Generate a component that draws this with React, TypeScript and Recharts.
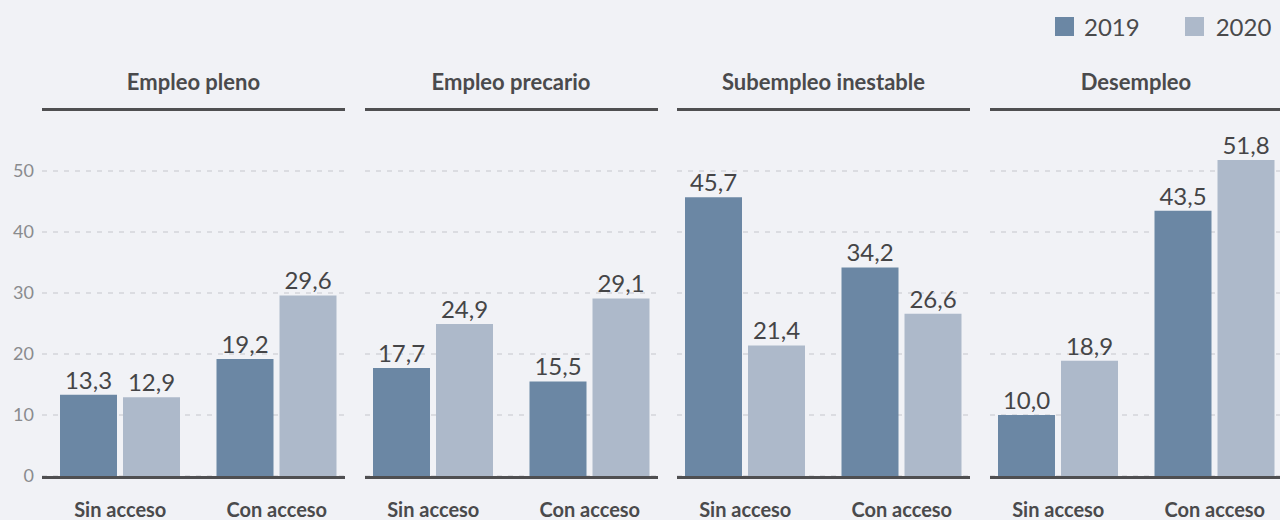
import React from 'react';
import { BarChart, Bar, XAxis, YAxis, CartesianGrid, LabelList, ReferenceLine } from 'recharts';

const categories = ['Sin acceso', 'Con acceso'];
const panelTitles = ['Empleo pleno', 'Empleo precario', 'Subempleo inestable', 'Desempleo'];
const values2019 = [
  [13.3, 19.2],
  [17.7, 15.5],
  [45.7, 34.2],
  [10.0, 43.5],
];
const values2020 = [
  [12.9, 29.6],
  [24.9, 29.1],
  [21.4, 26.6],
  [18.9, 51.8],
];
const seriesNames = ['2019', '2020'];
const yTicks = [0, 10, 20, 30, 40, 50];

const COLOR_2019 = '#6b87a4';
const COLOR_2020 = '#adb9ca';
const BG = '#f1f2f6';
const FONT = 'Lato, "Noto Sans", sans-serif';

const PLOT_W = 313;
const Y_AXIS_W = 42;
const PERIOD = 312.5;

const fmt = (v: any) => Number(v).toFixed(1).replace('.', ',');

function Panel({ idx }: { idx: number }) {
  const data = categories.map((c, k) => ({
    cat: c,
    v2019: values2019[idx][k],
    v2020: values2020[idx][k],
  }));
  const first = idx === 0;
  const trimL = first ? 0 : 10;
  const trimR = 10;
  const left = first ? 0 : Y_AXIS_W + idx * PERIOD;
  const width = first ? Y_AXIS_W + PLOT_W : PLOT_W;

  const gridLine = (p: any) => (
    <line
      key={p.key ?? `g-${p.index}`}
      x1={p.x1 + trimL}
      x2={p.x2 - trimR}
      y1={p.y1}
      y2={p.y2}
      stroke="#d3d5da"
      strokeWidth={1.5}
      strokeDasharray="5 6"
    />
  );

  const solidLine = (p: any, dy: number) => (
    <line
      x1={p.x1 + trimL}
      x2={p.x2 - trimR}
      y1={p.y1 + dy}
      y2={p.y2 + dy}
      stroke="#4f4f51"
      strokeWidth={3}
    />
  );

  return (
    <div style={{ position: 'absolute', left, top: 0 }}>
      <BarChart
        width={width}
        height={520}
        data={data}
        margin={{ top: 110, right: 0, bottom: 0, left: 0 }}
        barSize={57}
        barGap={6}
      >
        <CartesianGrid vertical={false} horizontal={gridLine as any} />
        <XAxis
          dataKey="cat"
          height={44}
          axisLine={false}
          tickLine={false}
          tickSize={0}
          tickMargin={27}
          tick={{ fill: '#4a4a4c', fontSize: 20, fontWeight: 700, fontFamily: FONT }}
          interval={0}
        />
        <YAxis
          hide={!first}
          width={first ? Y_AXIS_W : 0}
          domain={[0, 60]}
          ticks={yTicks}
          axisLine={false}
          tickLine={false}
          tickSize={0}
          tickMargin={8}
          tick={{ fill: '#8a8b8e', fontSize: 18, fontFamily: FONT }}
        />
        <Bar dataKey="v2019" name={seriesNames[0]} fill={COLOR_2019} isAnimationActive={false}>
          <LabelList dataKey="v2019" position="top" offset={6} formatter={fmt} fill="#454547" fontSize={24} fontFamily={FONT} />
        </Bar>
        <Bar dataKey="v2020" name={seriesNames[1]} fill={COLOR_2020} isAnimationActive={false}>
          <LabelList dataKey="v2020" position="top" offset={6} formatter={fmt} fill="#454547" fontSize={24} fontFamily={FONT} />
        </Bar>
        <ReferenceLine y={0} shape={(p: any) => solidLine(p, 1.5)} />
        <ReferenceLine y={60} shape={(p: any) => solidLine(p, -0.5)} />
      </BarChart>
      <div
        style={{
          position: 'absolute',
          top: 67,
          left: (first ? Y_AXIS_W : 0) + trimL,
          width: PLOT_W - trimL - trimR,
          textAlign: 'center',
          fontFamily: FONT,
          fontWeight: 700,
          fontSize: 22,
          lineHeight: '30px',
          color: '#4a4a4c',
          whiteSpace: 'nowrap',
        }}
      >
        {panelTitles[idx]}
      </div>
    </div>
  );
}

export default function App() {
  return (
    <div
      style={{
        position: 'absolute',
        left: 0,
        top: 0,
        width: 1280,
        height: 520,
        overflow: 'hidden',
        background: BG,
      }}
    >
      {panelTitles.map((_, i) => (
        <Panel key={i} idx={i} />
      ))}
      <div
        style={{
          position: 'absolute',
          top: 12,
          left: 1055,
          display: 'flex',
          alignItems: 'center',
          fontFamily: FONT,
          fontSize: 24,
          color: '#4a4a4c',
        }}
      >
        <span style={{ width: 19, height: 19, background: COLOR_2019, display: 'inline-block' }} />
        <span style={{ marginLeft: 10 }}>{seriesNames[0]}</span>
        <span style={{ width: 19, height: 19, background: COLOR_2020, display: 'inline-block', marginLeft: 45 }} />
        <span style={{ marginLeft: 12 }}>{seriesNames[1]}</span>
      </div>
    </div>
  );
}
